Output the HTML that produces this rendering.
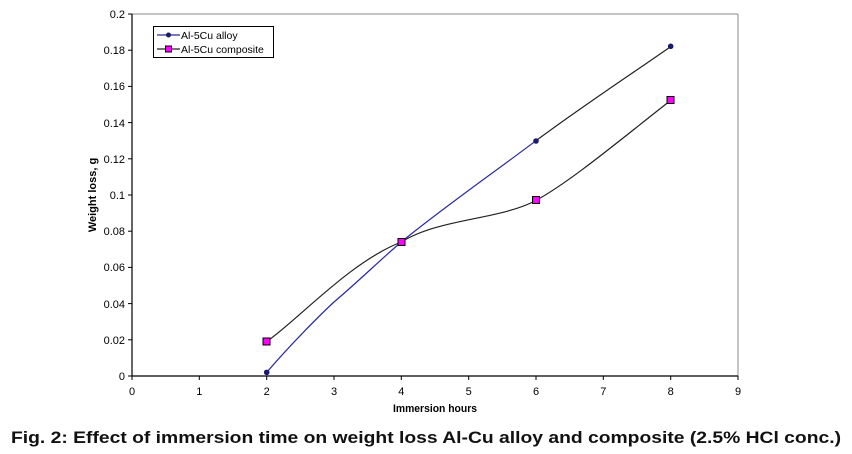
<!DOCTYPE html>
<html><head><meta charset="utf-8"><style>
body{margin:0;background:#fff;width:852px;height:454px;overflow:hidden}
svg{display:block}
text{font-family:"Liberation Sans",Arial,sans-serif}
</style></head><body>
<svg width="852" height="454" viewBox="0 0 852 454">
<line x1="132" y1="14" x2="738" y2="14" stroke="#888" stroke-width="1"/>
<line x1="738" y1="14" x2="738" y2="376" stroke="#888" stroke-width="1"/>
<line x1="132" y1="14" x2="132" y2="376" stroke="#000" stroke-width="1.2"/>
<line x1="132" y1="376" x2="738" y2="376" stroke="#000" stroke-width="1.2"/>
<g stroke="#000" stroke-width="1">
<line x1="128" y1="14" x2="132" y2="14"/><line x1="128" y1="50.2" x2="132" y2="50.2"/><line x1="128" y1="86.4" x2="132" y2="86.4"/><line x1="128" y1="122.6" x2="132" y2="122.6"/><line x1="128" y1="158.8" x2="132" y2="158.8"/><line x1="128" y1="195" x2="132" y2="195"/><line x1="128" y1="231.2" x2="132" y2="231.2"/><line x1="128" y1="267.4" x2="132" y2="267.4"/><line x1="128" y1="303.6" x2="132" y2="303.6"/><line x1="128" y1="339.8" x2="132" y2="339.8"/><line x1="128" y1="376" x2="132" y2="376"/>
<line x1="132" y1="376" x2="132" y2="380"/><line x1="199.3" y1="376" x2="199.3" y2="380"/><line x1="266.7" y1="376" x2="266.7" y2="380"/><line x1="334" y1="376" x2="334" y2="380"/><line x1="401.3" y1="376" x2="401.3" y2="380"/><line x1="468.7" y1="376" x2="468.7" y2="380"/><line x1="536" y1="376" x2="536" y2="380"/><line x1="603.3" y1="376" x2="603.3" y2="380"/><line x1="670.7" y1="376" x2="670.7" y2="380"/><line x1="738" y1="376" x2="738" y2="380"/>
</g>
<g font-size="11" text-anchor="end" fill="#000">
<text x="125" y="18">0.2</text><text x="125" y="54">0.18</text><text x="125" y="90">0.16</text><text x="125" y="127">0.14</text><text x="125" y="163">0.12</text><text x="125" y="199">0.1</text><text x="125" y="235">0.08</text><text x="125" y="271">0.06</text><text x="125" y="308">0.04</text><text x="125" y="344">0.02</text><text x="125" y="380">0</text>
</g>
<g font-size="11" text-anchor="middle" fill="#000">
<text x="132" y="395">0</text><text x="199.3" y="395">1</text><text x="266.7" y="395">2</text><text x="334" y="395">3</text><text x="401.3" y="395">4</text><text x="468.7" y="395">5</text><text x="536" y="395">6</text><text x="603.3" y="395">7</text><text x="670.7" y="395">8</text><text x="738" y="395">9</text>
</g>
<text x="435" y="412" font-size="11" font-weight="bold" text-anchor="middle" textLength="84" lengthAdjust="spacingAndGlyphs">Immersion hours</text>
<text transform="translate(96,195) rotate(-90)" font-size="11" font-weight="bold" text-anchor="middle">Weight loss, g</text>
<path d="M266.7,372.4 C290,345 320,315 334,302 C360,280 380,260 401.3,242 C440,210 500,168 536,140.7" fill="none" stroke="#2a2a9a" stroke-width="1.2"/>
<path d="M536,140.7 C580,108 630,75 670.7,46.6" fill="none" stroke="#222" stroke-width="1.2"/>
<path d="M266.7,341.6 C300,318 350,262 401.3,242 C440,218 500,220 536,200.4 C570,182 620,140 670.7,100.4" fill="none" stroke="#222" stroke-width="1.2"/>
<g fill="#1a1a6e"><circle cx="266.7" cy="372.4" r="2.8"/><circle cx="401.3" cy="242" r="2.8"/><circle cx="536" cy="141" r="2.8"/><circle cx="670.7" cy="46.3" r="2.8"/></g>
<g fill="#ff00ff" stroke="#000" stroke-width="1"><rect x="263" y="338" width="7" height="7"/><rect x="398" y="238.5" width="7" height="7"/><rect x="532.5" y="196.5" width="7" height="7"/><rect x="667" y="96.5" width="7" height="7"/></g>
<rect x="153.5" y="26.5" width="120" height="31" fill="#fff" stroke="#000" stroke-width="1"/>
<line x1="157" y1="35" x2="180" y2="35" stroke="#2a2a9a" stroke-width="1.2"/>
<circle cx="168.5" cy="35" r="2.5" fill="#1a1a6e"/>
<text x="181" y="39" font-size="10.5">Al-5Cu alloy</text>
<line x1="157" y1="49" x2="180" y2="49" stroke="#222" stroke-width="1.2"/>
<rect x="165.5" y="46" width="6" height="6" fill="#ff00ff" stroke="#000"/>
<text x="181" y="53" font-size="10.5">Al-5Cu composite</text>
<text x="426" y="443" font-size="17" font-weight="bold" text-anchor="middle" textLength="830" lengthAdjust="spacingAndGlyphs" fill="#111">Fig. 2: Effect of immersion time on weight loss Al-Cu alloy and composite (2.5% HCl conc.)</text>
</svg>
</body></html>
